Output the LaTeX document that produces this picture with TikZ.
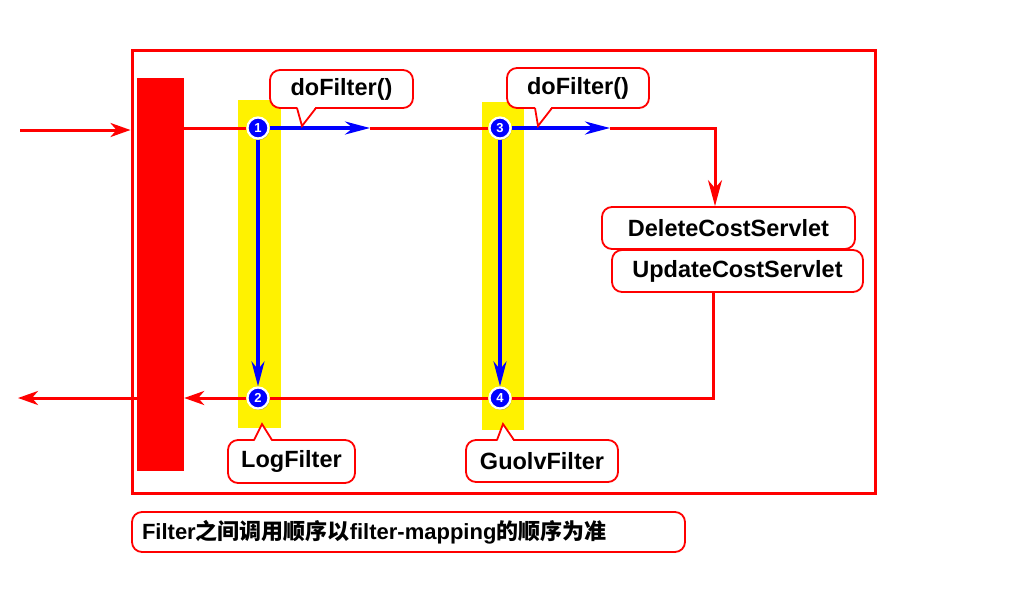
\documentclass[tikz,border=0pt]{standalone}
\usepackage{fontspec}
\setmainfont{Liberation Sans}
\newfontfamily\cjk{Noto Sans CJK SC}
\usetikzlibrary{arrows.meta,shadows}
\begin{document}
\begin{tikzpicture}[x=1pt,y=-1pt,
  redl/.style={draw=red, line width=3pt},
  bluel/.style={draw=blue, line width=3.4pt},
  rtip/.style={-{Stealth[length=20pt,width=14pt,inset=6pt]}},
  rltip/.style={-{Stealth[length=26pt,width=14pt,inset=8pt]}},
  btip/.style={-{Stealth[length=25pt,width=13pt,inset=8pt]}},
  lbl/.style={draw=red, line width=1.8pt, fill=white, rounded corners=10pt,
    font=\fontsize{23.5}{25}\selectfont\bfseries, inner sep=0pt},
  ptr/.style={draw=red, line width=1.8pt, line join=miter},
  num/.style={circle, fill=blue, draw=white, line width=2.2pt, minimum size=21pt,
    inner sep=0pt, font=\fontsize{13}{13}\selectfont\bfseries, text=white,
    drop shadow={shadow xshift=1pt, shadow yshift=-1.5pt, opacity=0.5}},
  strip/.style={fill=yellow, inner sep=0pt}]
\useasboundingbox (0,0) rectangle (1024,606);
% frame and bars
\node[draw=red, line width=3pt, minimum width=743pt, minimum height=443pt, inner sep=0pt] (frame) at (503.5,271.5) {};
\node[fill=red, minimum width=47pt, minimum height=393pt, inner sep=0pt] (bar) at (160.5,274.5) {};
\node[strip, minimum width=43pt, minimum height=328pt] (y1) at (259.5,264) {};
\node[strip, minimum width=42pt, minimum height=328pt] (y2) at (503,266) {};
% points
\node[num] (c1) at (258,128) {1};
\node[num] (c2) at (258,398) {2};
\node[num] (c3) at (500,128) {3};
\node[num] (c4) at (500,398) {4};
\coordinate (in) at (20,130);
\coordinate (out) at (18,398);
\coordinate (b1) at (370,128);
\coordinate (b3) at (610,128);
\coordinate (corner) at (715,128);
\coordinate (ret) at (713,398);
% servlet boxes
\node[lbl, minimum width=253pt, minimum height=42pt] (Delete) at (728.5,228) {DeleteCostServlet};
\node[lbl, minimum width=251pt, minimum height=42pt] (Update) at (737.5,271) {UpdateCostServlet};
% connectors
\draw[redl, rtip] (in) -- (in -| frame.west);
\draw[redl] (bar.east |- c1) -- (c1);
\draw[redl] (b1) -- (c3);
\draw[redl, rltip] (b3) -- (corner) -- (corner |- Delete.north);
\draw[bluel, btip] (c1) -- (b1);
\draw[bluel, btip] (c3) -- (b3);
\draw[bluel, btip] (c1) -- (c2);
\draw[bluel, btip] (c3) -- (c4);
\draw[redl] (ret |- Update.south) -- (ret) -- (c4);
\draw[redl] (c4) -- (c2);
\draw[redl, rtip] (c2) -- (c2 -| bar.east);
\draw[redl, rtip] (out -| bar.west) -- (out);
% callouts
\node[lbl, minimum width=143pt, minimum height=38pt] (d1) at (341.5,89) {doFilter()};
\fill[white] (297,106) -- (302,126) -- (316,106) -- cycle;
\draw[ptr] (297,108) -- (302,126) -- (316,108);
\node[lbl, minimum width=142pt, minimum height=40pt] (d2) at (578,88) {doFilter()};
\fill[white] (535,106) -- (538,126) -- (552,106) -- cycle;
\draw[ptr] (535,108) -- (538,126) -- (552,108);
\node[lbl, minimum width=127pt, minimum height=43pt] (log) at (291.5,461.5) {LogFilter};
\fill[white] (254,442) -- (262,424) -- (272,442) -- cycle;
\draw[ptr] (254,440) -- (262,424) -- (272,440);
\node[lbl, minimum width=152pt, minimum height=42pt] (guolv) at (542,461) {GuolvFilter};
\fill[white] (497,442) -- (503,424) -- (514,442) -- cycle;
\draw[ptr] (497,440) -- (503,424) -- (514,440);
% note
\node[lbl, minimum width=553pt, minimum height=40pt, text width=533pt, align=left,
  font=\fontsize{22}{24}\selectfont\bfseries] (note) at (408.5,532)
  {Filter{\cjk\bfseries 之间调用顺序以}filter-mapping{\cjk\bfseries 的顺序为准}};
\end{tikzpicture}
\end{document}
